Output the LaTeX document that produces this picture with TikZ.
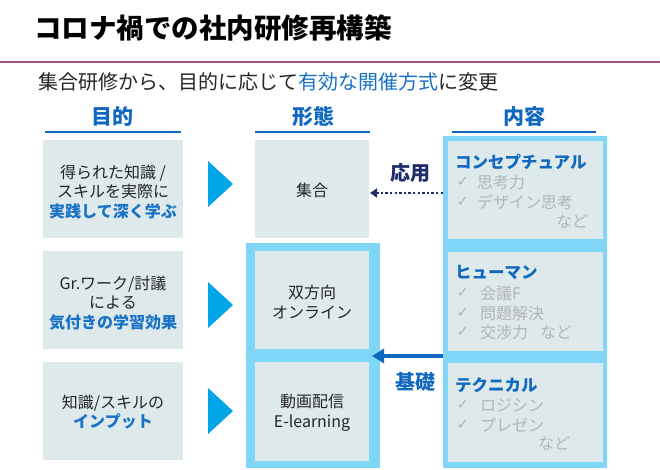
\documentclass[tikz,border=0pt]{standalone}
\usepackage{fontspec}
\setmainfont{Noto Sans CJK JP}
\newfontfamily\symfont{DejaVu Sans}
\usetikzlibrary{arrows.meta}
\definecolor{boxfill}{HTML}{DDE9EA}
\definecolor{framec}{HTML}{80D6F6}
\definecolor{trianglec}{HTML}{00A6E8}
\definecolor{headblue}{HTML}{1168C0}
\definecolor{textblue}{HTML}{1A72C6}
\definecolor{navyc}{HTML}{1F2D6B}
\definecolor{grayt}{HTML}{B4B4B4}
\definecolor{darkt}{HTML}{262626}
\definecolor{rulec}{HTML}{A0567A}
\newcommand{\chk}{{\symfont ✓}}
\begin{document}
\begin{tikzpicture}[x=1pt,y=-1pt,
  every node/.style={inner sep=0pt, outer sep=0pt},
  cbox/.style={fill=boxfill, draw=none},
  frame/.style={fill=framec, draw=none},
  head/.style={font=\fontsize{21}{24}\selectfont\bfseries, text=headblue},
  hline/.style={draw=headblue, line width=2pt},
  ltext/.style={font=\fontsize{16}{19.5}\selectfont, text=darkt, align=center},
  rtitle/.style={font=\fontsize{16.5}{19}\selectfont\bfseries, text=headblue, anchor=west},
  rline/.style={font=\fontsize{16}{19}\selectfont, text=grayt, anchor=west},
  rchk/.style={font=\fontsize{15}{17}\selectfont, text=grayt},
  tri/.style={fill=trianglec},
  blue/.style={text=textblue, font=\bfseries}
]
\useasboundingbox (0,0) rectangle (660,470);
\fill[white] (0,0) rectangle (660,470);

% title
\node[anchor=west, font=\fontsize{27.5}{30}\selectfont\bfseries, text=black] (title) at (34,28) {コロナ禍での社内研修再構築};
\coordinate (rl) at (0,62);
\coordinate (rr) at (660,62);
\draw[rulec, line width=2pt] (rl) -- (rr);
\node[anchor=west, font=\fontsize{20}{24}\selectfont, text=darkt] (sub) at (38,82) {集合研修から、目的に応じて\textcolor{textblue}{有効な開催方式}に変更};

% headers
\node[head] (h1) at (112,117) {目的};
\node[head] (h2) at (313,117) {形態};
\node[head] (h3) at (524,117) {内容};
\coordinate (u1a) at (45,132); \coordinate (u1b) at (181,132);
\coordinate (u2a) at (255,132); \coordinate (u2b) at (370,132);
\coordinate (u3a) at (452,132); \coordinate (u3b) at (596,132);
\draw[hline] (u1a) -- (u1b);
\draw[hline] (u2a) -- (u2b);
\draw[hline] (u3a) -- (u3b);

% left boxes
\path[cbox] (43,140) rectangle (183,238);
\path[cbox] (43,251) rectangle (183,349);
\path[cbox] (43,362) rectangle (183,460);
\node[ltext] (l1) at (113,192) {得られた知識 /\\スキルを実際に\\{\color{textblue}\bfseries 実践して深く学ぶ}};
\node[ltext] (l2) at (113,303) {Gr.ワーク/討議\\による\\{\color{textblue}\bfseries 気付きの学習効果}};
\node[ltext] (l3) at (113,412) {知識/スキルの\\{\color{textblue}\bfseries インプット}};

% triangles
\fill[tri] (208,161) -- (233,184) -- (208,207) -- cycle;
\fill[tri] (208,282) -- (233,305) -- (208,328) -- cycle;
\fill[tri] (208,388) -- (233,411) -- (208,434) -- cycle;

% middle column
\path[frame] (246,243) rectangle (380,468);
\path[cbox] (255,140) rectangle (369,238);
\path[cbox] (255,251) rectangle (369,349);
\path[cbox] (255,362) rectangle (369,461);
\node[ltext] (m1) at (312,190) {集合};
\coordinate (m1E) at (370,193);
\node[ltext] (m2) at (312,302) {双方向\\オンライン};
\node[ltext] (m3) at (312,413) {動画配信\\E-learning};

% right column
\path[frame] (443,136) rectangle (607,468);
\path[cbox] (448,141) rectangle (603,239);
\path[cbox] (448,252) rectangle (603,351);
\path[cbox] (448,363) rectangle (603,462);
\coordinate (rA) at (443,193);
\coordinate (rB) at (443,356);

\node[rtitle] (t1) at (455,162) {コンセプチュアル};
\node[rchk] (c1a) at (463,182) {\chk};
\node[rline] (r1a) at (477,182) {思考力};
\node[rchk] (c1b) at (463,202) {\chk};
\node[rline] (r1b) at (477,202) {デザイン思考};
\node[rline, anchor=east] (r1c) at (588,221) {など};

\node[rtitle] (t2) at (455,273) {ヒューマン};
\node[rchk] (c2a) at (463,293) {\chk};
\node[rline] (r2a) at (480,293) {会議F};
\node[rchk] (c2b) at (463,313) {\chk};
\node[rline] (r2b) at (480,313) {問題解決};
\node[rchk] (c2c) at (463,332) {\chk};
\node[rline] (r2c) at (480,332) {交渉力\hspace{12pt}など};

\node[rtitle] (t3) at (455,385) {テクニカル};
\node[rchk] (c3a) at (463,405) {\chk};
\node[rline] (r3a) at (480,405) {ロジシン};
\node[rchk] (c3b) at (463,425) {\chk};
\node[rline] (r3b) at (480,425) {プレゼン};
\node[rline, anchor=east] (r3c) at (570,443) {など};

% arrows
\node[font=\fontsize{20}{24}\selectfont\bfseries, text=navyc] (ouyou) at (410,173) {応用};
\draw[navyc, line width=2.6pt, dash pattern=on 2.4pt off 2.2pt, -{Triangle[length=7pt,width=9pt]}] (rA) -- (m1E);
\coordinate (tipB) at (372,356);
\draw[headblue, line width=4pt, -{Triangle[length=12pt,width=14pt]}] (rB) -- (tipB);
\node[font=\fontsize{20}{24}\selectfont\bfseries, text=headblue] (kiso) at (415,382) {基礎};
\end{tikzpicture}
\end{document}
